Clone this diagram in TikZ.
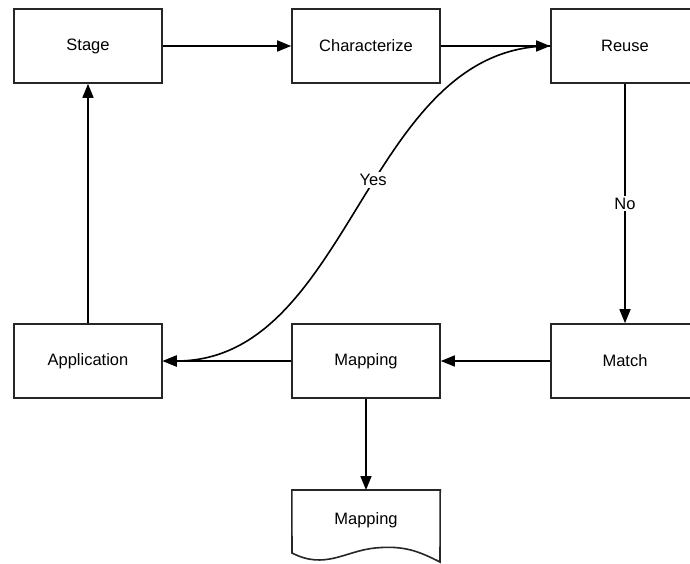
\documentclass[tikz,border=0pt]{standalone}
\usepackage{fontspec}
\setmainfont{Liberation Sans}
\usetikzlibrary{arrows.meta}
\begin{document}
\begin{tikzpicture}[x=1pt,y=-1pt,
  box/.style={draw=black!85,line width=1.6pt,minimum width=148pt,minimum height=74pt,inner sep=0pt,font=\fontsize{16.5}{19}\selectfont,fill=white},
  conn/.style={draw=black,line width=1.6pt,-{Triangle[length=14pt,width=11pt]}},
  lbl/.style={fill=white,font=\fontsize{16.5}{19}\selectfont,inner sep=2pt}]
\clip (0,0) rectangle (690,564);
\useasboundingbox (0,0) rectangle (690,564);
\fill[white] (0,0) rectangle (690,564);
\node[box] (stage) at (88,46) {Stage};
\node[box] (char) at (366,46) {Characterize};
\node[box] (reuse) at (625,46) {Reuse};
\node[box] (app) at (88,361) {Application};
\node[box] (map) at (366,361) {Mapping};
\node[box] (match) at (625,361) {Match};
\node[minimum width=148pt,minimum height=74pt,inner sep=0pt,anchor=north] (doc) at (366,490) {};
\node[font=\fontsize{16.5}{19}\selectfont] (doctext) at (366,520) {Mapping};
\draw[line width=1.6pt,draw=black!85] (292,553) -- (doc.north west) -- (doc.north east) -- (440,562)
  .. controls (420,552) and (405,545) .. (375,548)
  .. controls (345,551) and (325,570) .. (292,553) -- cycle;
\draw[conn] (stage) -- (char);
\draw[conn] (char) -- (reuse);
\draw[conn] (reuse) -- node[lbl] {No} (match);
\draw[conn] (match) -- (map);
\draw[conn] (map) -- (app);
\draw[conn] (app) -- (stage);
\draw[conn] (map) -- (doc);
\draw[conn] (reuse.west) .. controls (365,46) and (352,361) .. node[lbl,pos=0.45] {Yes} (app.east);
\end{tikzpicture}
\end{document}
